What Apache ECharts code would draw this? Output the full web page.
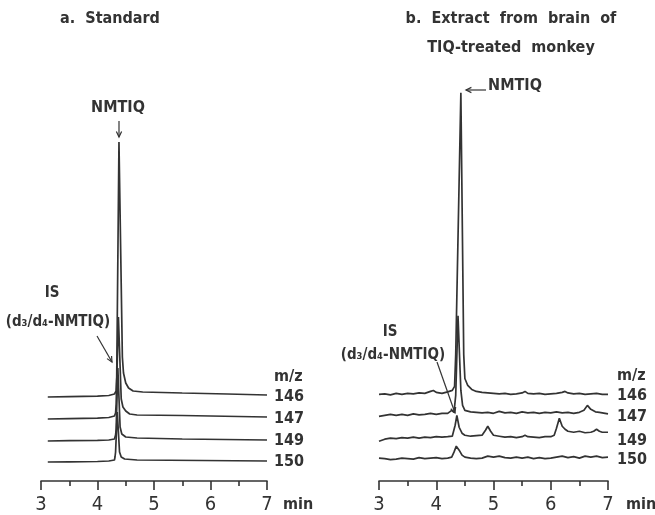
<!DOCTYPE html>
<html>
<head>
<meta charset="utf-8">
<script src="https://cdn.jsdelivr.net/npm/echarts@6/dist/echarts.min.js"></script>
<style>
  html, body { margin: 0; padding: 0; background: #fff; }
  #chart { width: 655px; height: 515px; }
</style>
</head>
<body>
<div id="chart"></div>
<script>
// m/z channels, bottom row is the last one
const channels = ['146', '147', '149', '150']

// panel a: standard, [time (min), signal above the channel baseline]
const stdMz146 = [[3.12, 0], [3.5, 0.3], [4.0, 0.8], [4.2, 1.5], [4.3, 3], [4.33, 6], [4.34, 20], [4.38, 255], [4.44, 40], [4.46, 24], [4.5, 14], [4.55, 9], [4.63, 6], [4.8, 5], [5.5, 4], [6.3, 3], [7.0, 2]]
const stdMz147 = [[3.12, 0], [3.5, 0.3], [4.0, 0.8], [4.2, 1.5], [4.3, 3], [4.32, 6], [4.33, 15], [4.37, 102], [4.42, 20], [4.45, 12], [4.5, 8], [4.57, 5], [4.7, 4], [5.5, 3.5], [7.0, 2]]
const stdMz149 = [[3.12, 0], [3.5, 0.3], [4.0, 0.6], [4.2, 1], [4.3, 2], [4.32, 6], [4.33, 12], [4.36, 73], [4.4, 14], [4.43, 7], [4.5, 4], [4.7, 3], [5.5, 2], [7.0, 1]]
const stdMz150 = [[3.12, 0], [3.5, 0.2], [4.0, 0.5], [4.2, 1], [4.3, 2], [4.31, 5], [4.32, 10], [4.35, 50], [4.39, 10], [4.42, 5], [4.48, 3], [4.7, 2], [7.0, 1]]

// panel b: brain extract
const extMz146 = [[3.0, 0], [3.1, 0.5], [3.2, -0.5], [3.3, 1], [3.4, 0], [3.5, 1], [3.6, 0.5], [3.7, 1.5], [3.8, 1], [3.9, 3], [3.95, 4], [4.0, 2], [4.1, 1], [4.2, 2.5], [4.28, 4], [4.32, 8], [4.34, 40], [4.43, 303], [4.48, 40], [4.5, 16], [4.55, 9], [4.62, 5], [4.7, 3], [4.8, 2], [4.9, 1.5], [5.0, 1], [5.1, 0.5], [5.2, 1], [5.3, 0], [5.4, 0.5], [5.5, 1.5], [5.55, 3], [5.6, 1], [5.7, 0.5], [5.8, 1], [5.9, 0], [6.0, 0.5], [6.1, 1], [6.2, 2], [6.25, 3], [6.3, 1.5], [6.4, 0.5], [6.5, 1], [6.6, 0], [6.7, 0.5], [6.8, 1], [6.9, 0], [7.0, 0]]
const extMz147 = [[3.0, -1], [3.1, 0], [3.2, 1], [3.3, 0], [3.4, 1], [3.5, 0], [3.6, 1.5], [3.7, 0.5], [3.8, 1], [3.9, 2], [4.0, 1], [4.1, 2], [4.2, 2], [4.27, 5], [4.31, 3], [4.34, 20], [4.38, 100], [4.43, 25], [4.46, 10], [4.5, 5], [4.6, 3.5], [4.7, 3], [4.8, 2.5], [4.9, 3], [5.0, 2], [5.1, 4], [5.2, 2.5], [5.3, 3], [5.4, 2], [5.5, 3.5], [5.6, 2.5], [5.7, 3], [5.8, 2], [5.9, 3], [6.0, 2.5], [6.1, 3.5], [6.2, 2.5], [6.3, 3], [6.4, 2], [6.5, 3], [6.58, 5], [6.64, 10], [6.7, 6], [6.78, 3.5], [6.85, 3], [6.95, 2], [7.0, 1.5]]
const extMz149 = [[3.0, -2], [3.05, -1], [3.1, 0], [3.2, 1], [3.3, 0.5], [3.4, 1.5], [3.5, 1], [3.6, 2], [3.7, 1], [3.8, 2], [3.9, 1.5], [4.0, 2.5], [4.1, 2], [4.2, 2.5], [4.28, 3], [4.33, 14], [4.36, 24], [4.4, 12], [4.45, 6], [4.5, 4], [4.6, 3], [4.7, 3.5], [4.8, 4], [4.86, 9], [4.9, 13], [4.95, 8], [5.0, 4], [5.1, 3], [5.2, 2], [5.3, 2.5], [5.4, 1.5], [5.5, 2.5], [5.55, 4], [5.6, 2.5], [5.7, 2], [5.8, 1.5], [5.9, 2.5], [6.0, 2.5], [6.06, 4], [6.1, 11], [6.15, 21], [6.2, 13], [6.25, 10], [6.3, 8], [6.4, 7], [6.5, 8], [6.6, 6.5], [6.7, 7], [6.75, 8], [6.8, 10], [6.85, 8], [6.9, 7], [7.0, 7]]
const extMz150 = [[3.0, 0], [3.1, -0.5], [3.2, -1.5], [3.3, -1], [3.4, 0], [3.5, -0.5], [3.6, -1], [3.7, 0.5], [3.8, -0.5], [3.9, 0], [4.0, 0.5], [4.1, -0.5], [4.2, 0], [4.27, 1], [4.31, 6], [4.35, 12], [4.4, 8], [4.45, 3], [4.5, 1], [4.6, 0], [4.7, -0.5], [4.8, 0], [4.9, 2], [5.0, 1], [5.1, 2], [5.2, 0.5], [5.3, 0], [5.4, 1], [5.5, 0], [5.6, 1], [5.7, -0.5], [5.8, 0.5], [5.9, -0.5], [6.0, 0], [6.1, 1], [6.2, 2], [6.3, 0.5], [6.4, 1.5], [6.5, 0], [6.6, 2], [6.7, 1], [6.8, 2], [6.9, 0.5], [7.0, 1]]

// time axis ticks (min)
const timeTicks = [3, 4, 5, 6, 7]

// vertical stacking of the channels (same units as the signal)
const stdOffset = [84, 62, 40, 19]
const extOffset = [87, 66, 42, 23]

const FONT = '"DejaVu Sans Condensed", sans-serif'
const INK = '#333'

function stack(data, off) {
  return data.map(p => [p[0], p[1] + off])
}

function traces(list, offsets, idx) {
  return list.map((d, i) => ({
    type: 'line',
    xAxisIndex: idx,
    yAxisIndex: idx,
    data: stack(d, offsets[i]),
    showSymbol: false,
    smooth: false,
    lineStyle: { color: INK, width: 1.7 },
    z: 2
  }))
}

function xAxis(idx) {
  return {
    gridIndex: idx,
    type: 'value',
    min: timeTicks[0],
    max: timeTicks[timeTicks.length - 1],
    interval: 1,
    axisLine: { lineStyle: { color: INK, width: 1.6 } },
    axisTick: { inside: false, length: 9, lineStyle: { color: INK, width: 1.6 } },
    minorTick: { show: true, splitNumber: 2, length: 5, lineStyle: { color: INK, width: 1.6 } },
    splitLine: { show: false },
    axisLabel: { color: INK, fontSize: 20, fontFamily: FONT, margin: 14 }
  }
}

function arrow(x1, y1, x2, y2) {
  const a = Math.atan2(y2 - y1, x2 - x1)
  const h = 6, w = 0.45
  return {
    type: 'group',
    children: [
      { type: 'line', shape: { x1, y1, x2, y2 }, style: { stroke: INK, lineWidth: 1.2 } },
      {
        type: 'polyline',
        shape: { points: [
          [x2 - h * Math.cos(a - w), y2 - h * Math.sin(a - w)],
          [x2, y2],
          [x2 - h * Math.cos(a + w), y2 - h * Math.sin(a + w)]
        ] },
        style: { stroke: INK, lineWidth: 1.2, fill: null }
      }
    ]
  }
}

function label(text, x, y, size, align) {
  return {
    type: 'text',
    x, y,
    style: {
      text, fill: INK, font: 'bold ' + size + 'px ' + FONT,
      align: align || 'center', verticalAlign: 'middle'
    }
  }
}

const chart = echarts.init(document.getElementById('chart'))

const rightLabels = []
;[[274, stdOffset, 481], [617, extOffset, 483]].forEach(([x, offs, axisY]) => {
  rightLabels.push(label('m/z', x, axisY - offs[0] - 20, 16, 'left'))
  channels.forEach((c, i) => rightLabels.push(label(c, x, axisY - offs[i], 16, 'left')))
  rightLabels.push(label('min', x + 9, 505, 16, 'left'))
})

chart.setOption({
  animation: false,
  title: [
    { text: 'a.  Standard', left: 110, top: 4, padding: 0, textAlign: 'center',
      textStyle: { fontFamily: FONT, fontSize: 16, fontWeight: 'bold', color: INK, lineHeight: 29 } },
    { text: 'b.  Extract  from  brain  of\nTIQ-treated  monkey', left: 511, top: 4, padding: 0, textAlign: 'center',
      textStyle: { fontFamily: FONT, fontSize: 16, fontWeight: 'bold', color: INK, lineHeight: 29 } }
  ],
  grid: [
    { left: 41, width: 226, top: 60, height: 421 },
    { left: 379, width: 229, top: 60, height: 423 }
  ],
  xAxis: [xAxis(0), xAxis(1)],
  yAxis: [
    { gridIndex: 0, type: 'value', min: 0, max: 421, show: false },
    { gridIndex: 1, type: 'value', min: 0, max: 423, show: false }
  ],
  series: [
    ...traces([stdMz146, stdMz147, stdMz149, stdMz150], stdOffset, 0),
    ...traces([extMz146, extMz147, extMz149, extMz150], extOffset, 1)
  ],
  graphic: [
    label('NMTIQ', 118, 108, 16),
    arrow(119, 121, 119, 137),
    label('NMTIQ', 515, 86, 16),
    arrow(486, 90, 466, 90),
    label('IS', 52, 293, 15),
    label('(d\u2083/d\u2084-NMTIQ)', 58, 322, 15),
    arrow(97, 336, 112, 362),
    label('IS', 390, 332, 15),
    label('(d\u2083/d\u2084-NMTIQ)', 393, 355, 15),
    arrow(437, 362, 455, 413),
    ...rightLabels
  ]
})
</script>
</body>
</html>
